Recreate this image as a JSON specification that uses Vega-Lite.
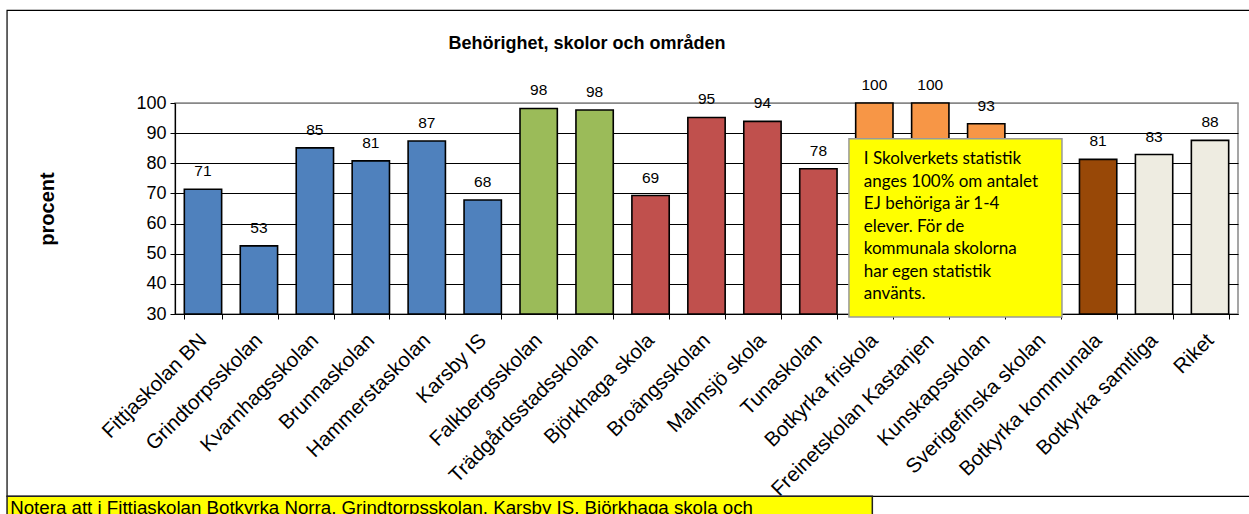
{
  "$schema": "https://vega.github.io/schema/vega-lite/v6.json",
  "width": 1063,
  "height": 211,
  "autosize": "none",
  "padding": {"left": 175, "top": 103, "right": 11, "bottom": 200},
  "background": "white",
  "config": {
    "font": "Liberation Sans",
    "view": {"stroke": "#888888", "strokeWidth": 1.5}
  },
  "resolve": {"scale": {"x": "independent", "y": "independent"}},
  "layer": [
    {
      "data": {"values": [{}]},
      "mark": {"type": "rect", "fill": null, "stroke": "#000000", "strokeWidth": 1.2},
      "encoding": {
        "x": {"datum": -0.158, "type": "quantitative", "scale": {"domain": [0, 1]}, "axis": null},
        "x2": {"datum": 1.06},
        "y": {"datum": 130.7, "type": "quantitative", "scale": {"domain": [30, 100]}, "axis": null},
        "y2": {"datum": -30.5}
      }
    },
    {
      "data": {"values": [
        {"skola": "Fittjaskolan BN", "procent": 71.4, "grupp": "Norra"},
        {"skola": "Grindtorpsskolan", "procent": 52.6, "grupp": "Norra"},
        {"skola": "Kvarnhagsskolan", "procent": 85.1, "grupp": "Norra"},
        {"skola": "Brunnaskolan", "procent": 80.8, "grupp": "Norra"},
        {"skola": "Hammerstaskolan", "procent": 87.4, "grupp": "Norra"},
        {"skola": "Karsby IS", "procent": 67.8, "grupp": "Norra"},
        {"skola": "Falkbergsskolan", "procent": 98.2, "grupp": "Mitt"},
        {"skola": "Trädgårdsstadsskolan", "procent": 97.7, "grupp": "Mitt"},
        {"skola": "Björkhaga skola", "procent": 69.3, "grupp": "Södra"},
        {"skola": "Broängsskolan", "procent": 95.2, "grupp": "Södra"},
        {"skola": "Malmsjö skola", "procent": 93.9, "grupp": "Södra"},
        {"skola": "Tunaskolan", "procent": 78.2, "grupp": "Södra"},
        {"skola": "Botkyrka friskola", "procent": 100, "grupp": "Friskolor"},
        {"skola": "Freinetskolan Kastanjen", "procent": 100, "grupp": "Friskolor"},
        {"skola": "Kunskapsskolan", "procent": 93.1, "grupp": "Friskolor"},
        {"skola": "Sverigefinska skolan", "procent": null, "grupp": "Friskolor"},
        {"skola": "Botkyrka kommunala", "procent": 81.3, "grupp": "Kommunala"},
        {"skola": "Botkyrka samtliga", "procent": 82.9, "grupp": "Jämförelse"},
        {"skola": "Riket", "procent": 87.6, "grupp": "Jämförelse"}
      ]},
      "encoding": {
        "x": {
          "field": "skola", "type": "nominal", "sort": null,
          "scale": {
            "domain": ["Fittjaskolan BN", "Grindtorpsskolan", "Kvarnhagsskolan", "Brunnaskolan", "Hammerstaskolan", "Karsby IS", "Falkbergsskolan", "Trädgårdsstadsskolan", "Björkhaga skola", "Broängsskolan", "Malmsjö skola", "Tunaskolan", "Botkyrka friskola", "Freinetskolan Kastanjen", "Kunskapsskolan", "Sverigefinska skolan", "Botkyrka kommunala", "Botkyrka samtliga", "Riket"],
            "paddingInner": 0.333, "paddingOuter": 0.1667
          },
          "axis": {
            "title": null,
            "labelAngle": -45, "labelAlign": "right", "labelBaseline": "middle",
            "labelFontSize": 20.5, "labelColor": "#000000", "labelPadding": 18,
            "tickBand": "extent", "tickSize": 5, "tickColor": "#000000",
            "domainColor": "#000000", "domainWidth": 1.2, "grid": false,
            "labelOverlap": false, "labelLimit": 0
          }
        },
        "y": {
          "field": "procent", "type": "quantitative",
          "scale": {"domain": [30, 100], "nice": false, "zero": false},
          "axis": {
            "title": "procent", "titleFontSize": 20, "titleFontWeight": "bold", "titleColor": "#000000",
            "titlePadding": 78,
            "values": [30, 40, 50, 60, 70, 80, 90, 100],
            "labelFontSize": 18, "labelColor": "#000000", "labelPadding": 4,
            "tickSize": 5, "tickColor": "#000000",
            "domainColor": "#000000", "domainWidth": 1.2,
            "grid": true,
            "gridColor": {"condition": {"test": "datum.value === 100", "value": "#888888"}, "value": "#000000"},
            "gridWidth": 1.2
          }
        }
      },
      "layer": [
        {
          "mark": {"type": "bar", "stroke": "#000000", "strokeWidth": 1.6},
          "encoding": {
            "y2": {"datum": 30},
            "color": {
              "field": "grupp", "type": "nominal",
              "scale": {"domain": ["Norra", "Mitt", "Södra", "Friskolor", "Kommunala", "Jämförelse"], "range": ["#4F81BD", "#9BBB59", "#C0504D", "#F79646", "#984807", "#EEECE1"]},
              "legend": null
            }
          }
        },
        {
          "mark": {"type": "text", "baseline": "bottom", "dy": -10, "fontSize": 15.5, "color": "#000000"},
          "encoding": {"text": {"field": "procent", "type": "quantitative", "format": ".0f"}}
        }
      ]
    },
    {
      "data": {"values": [{}]},
      "mark": {"type": "rect", "fill": "#FFFF00", "stroke": "#999999", "strokeWidth": 1.5},
      "encoding": {
        "x": {"datum": 0.634, "type": "quantitative", "scale": {"domain": [0, 1]}, "axis": null},
        "x2": {"datum": 0.8344},
        "y": {"datum": 88.1, "type": "quantitative", "scale": {"domain": [30, 100]}, "axis": null},
        "y2": {"datum": 29}
      }
    },
    {
      "data": {"values": [{}]},
      "mark": {"type": "text", "align": "left", "baseline": "top", "font": "Lato", "fontSize": 17, "lineHeight": 22.5, "color": "#000000",
        "text": ["I Skolverkets statistik", "anges 100% om antalet", "EJ behöriga är 1-4", "elever. För de", "kommunala skolorna", "har egen statistik", "använts."]},
      "encoding": {
        "x": {"datum": 0.648, "type": "quantitative", "scale": {"domain": [0, 1]}, "axis": null},
        "y": {"datum": 84.0, "type": "quantitative", "scale": {"domain": [30, 100]}, "axis": null}
      }
    },
    {
      "data": {"values": [{}]},
      "mark": {"type": "rect", "fill": "#FFFF00", "stroke": "#222222", "strokeWidth": 1.5},
      "encoding": {
        "x": {"datum": -0.158, "type": "quantitative", "scale": {"domain": [0, 1]}, "axis": null},
        "x2": {"datum": 0.656},
        "y": {"datum": -30.5, "type": "quantitative", "scale": {"domain": [30, 100]}, "axis": null},
        "y2": {"datum": -45}
      }
    },
    {
      "data": {"values": [{}]},
      "mark": {"type": "text", "align": "left", "baseline": "top", "fontSize": 18.7, "color": "#000000",
        "text": "Notera att i Fittjaskolan Botkyrka Norra, Grindtorpsskolan, Karsby IS, Björkhaga skola och"},
      "encoding": {
        "x": {"datum": -0.155, "type": "quantitative", "scale": {"domain": [0, 1]}, "axis": null},
        "y": {"datum": -31.4, "type": "quantitative", "scale": {"domain": [30, 100]}, "axis": null}
      }
    },
    {
      "data": {"values": [{}]},
      "mark": {"type": "text", "align": "center", "baseline": "middle", "fontSize": 18, "fontWeight": "bold", "color": "#000000",
        "text": "Behörighet, skolor och områden"},
      "encoding": {
        "x": {"datum": 0.3876, "type": "quantitative", "scale": {"domain": [0, 1]}, "axis": null},
        "y": {"datum": 119.7, "type": "quantitative", "scale": {"domain": [30, 100]}, "axis": null}
      }
    }
  ]
}
